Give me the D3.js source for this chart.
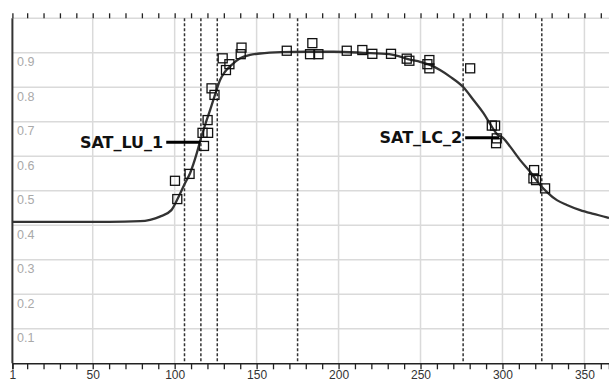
<!DOCTYPE html>
<html><head><meta charset="utf-8">
<script src="https://cdn.jsdelivr.net/npm/d3@7/dist/d3.min.js"></script>
<style>html,body{margin:0;padding:0;background:#fff;overflow:hidden}</style>
</head><body><div id="chart"></div>
<script>
// ---- data ----
const xTickLabels = [1, 50, 100, 150, 200, 250, 300, 350];
const yTickLabels = [0.1, 0.2, 0.3, 0.4, 0.5, 0.6, 0.7, 0.8, 0.9];
const dashedDays = [106, 116, 126, 175, 276, 324];
const curveDays = [1, 60, 79, 85, 91, 98, 101.6, 106.3, 109.4, 113.5, 115.6, 118.5, 121.6, 124.6, 127.7, 130.7, 134.8, 139.9, 146, 152, 165, 180, 197, 215, 231, 237.5, 243.6, 249.7, 255.8, 261.9, 268, 276.2, 282.3, 288.4, 293.5, 296.5, 300.6, 304.7, 310.8, 316.9, 323, 327, 333.2, 339.3, 347.4, 355.5, 363.7, 365];
const curveValues = [0.41, 0.41, 0.412, 0.416, 0.425, 0.444, 0.475, 0.522, 0.551, 0.609, 0.645, 0.69, 0.734, 0.778, 0.821, 0.845, 0.865, 0.884, 0.894, 0.898, 0.902, 0.903, 0.903, 0.900, 0.896, 0.889, 0.880, 0.874, 0.865, 0.850, 0.831, 0.800, 0.763, 0.725, 0.686, 0.665, 0.652, 0.628, 0.589, 0.555, 0.517, 0.497, 0.473, 0.459, 0.444, 0.433, 0.423, 0.421];
const obsDays = [100.2, 101.6, 109.1, 117.9, 117.0, 120.4, 120.1, 122.5, 124.3, 129.3, 131.3, 133.4, 140.8, 140.3, 168.4, 184.0, 182.6, 187.7, 205.0, 214.5, 220.6, 232.0, 241.6, 243.2, 255.4, 255.4, 254.2, 280.3, 293.5, 295.5, 296.5, 296.1, 319.3, 318.9, 320.5, 326.0];
const obsValues = [0.529, 0.476, 0.549, 0.630, 0.668, 0.668, 0.705, 0.797, 0.778, 0.884, 0.850, 0.867, 0.915, 0.896, 0.906, 0.928, 0.896, 0.896, 0.906, 0.908, 0.897, 0.897, 0.883, 0.877, 0.879, 0.855, 0.867, 0.855, 0.689, 0.689, 0.652, 0.638, 0.560, 0.536, 0.531, 0.507];
const annoLabels = ["SAT_LU_1", "SAT_LC_2"];
const annoDays = [115.6, 298];
const annoValues = [0.641, 0.654];

// ---- chart ----
const W = 609, H = 382;
const x = d3.scaleLinear().domain([1, 365]).range([12.4, 609]);
const y = d3.scaleLinear().domain([0, 1]).range([363.3, 18.3]);
const svg = d3.select("#chart").append("svg").attr("width", W).attr("height", H)
  .style("font-family", "'Liberation Sans', Arial, sans-serif");

const grid = svg.append("g");
grid.selectAll("line.h").data(yTickLabels.concat([1.0])).join("line")
  .attr("x1", x(1)).attr("x2", W).attr("y1", d => y(d)).attr("y2", d => y(d))
  .attr("stroke", "#dadada").attr("stroke-width", 1.5);
grid.selectAll("line.v").data(xTickLabels.filter(d => d > 1)).join("line")
  .attr("x1", d => x(d)).attr("x2", d => x(d)).attr("y1", y(1)).attr("y2", y(0))
  .attr("stroke", "#dadada").attr("stroke-width", 1.5);

svg.append("g").selectAll("text").data(yTickLabels).join("text")
  .attr("x", 17).attr("y", d => y(d) + 13.5)
  .attr("font-size", 12.5).attr("fill", "#a9a9a9")
  .text(d => d.toFixed(1));

svg.append("g").selectAll("line").data(dashedDays).join("line")
  .attr("x1", d => x(d)).attr("x2", d => x(d)).attr("y1", y(1)).attr("y2", y(0))
  .attr("stroke", "#333").attr("stroke-width", 1.5).attr("stroke-dasharray", "3,2");

// axes
const tickVals = [1].concat(d3.range(10, 361, 10));
const bottomAxis = d3.axisBottom(x).tickValues(tickVals).tickSize(6).tickFormat(d => xTickLabels.includes(d) ? d : "");
const gb = svg.append("g").attr("transform", `translate(0,${y(0)})`).call(bottomAxis);
gb.select(".domain").attr("stroke", "#222").attr("stroke-width", 1.5);
gb.selectAll(".tick line").attr("stroke", "#222").attr("stroke-width", 1.3);
gb.selectAll(".tick text").attr("font-size", 12).attr("fill", "#333").attr("dy", null).attr("y", 15.6)
  .style("font-family", "'Liberation Sans', Arial, sans-serif");

const topAxis = d3.axisTop(x).tickValues(tickVals).tickSize(5).tickFormat("");
const gt = svg.append("g").attr("transform", `translate(0,${y(1)})`).call(topAxis);
gt.select(".domain").remove();
gt.selectAll(".tick line").attr("stroke", "#222").attr("stroke-width", 1.3);

svg.append("line").attr("x1", x(1)).attr("x2", x(1)).attr("y1", y(1)).attr("y2", y(0))
  .attr("stroke", "#333").attr("stroke-width", 2);

// curve
const pts = curveDays.map((d, i) => [d, curveValues[i]]);
svg.append("path").datum(pts)
  .attr("d", d3.line().x(d => x(d[0])).y(d => y(d[1])).curve(d3.curveMonotoneX))
  .attr("fill", "none").attr("stroke", "#333").attr("stroke-width", 2.3);

// observations
const s = 9;
svg.append("g").selectAll("rect").data(obsDays.map((d, i) => [d, obsValues[i]])).join("rect")
  .attr("x", d => x(d[0]) - s / 2).attr("y", d => y(d[1]) - s / 2)
  .attr("width", s).attr("height", s)
  .attr("fill", "none").attr("stroke", "#111").attr("stroke-width", 1.3);

// annotations
const ga = svg.append("g");
annoLabels.forEach((lab, i) => {
  const ex = x(annoDays[i]), ey = y(annoValues[i]);
  ga.append("line").attr("x1", ex - 34).attr("x2", ex).attr("y1", ey).attr("y2", ey)
    .attr("stroke", "#000").attr("stroke-width", 3);
  ga.append("text").attr("x", ex - 37).attr("y", ey + 5.5).attr("text-anchor", "end")
    .attr("font-size", 16).attr("font-weight", "bold").attr("fill", "#111")
    .style("font-family", "'DejaVu Sans', sans-serif").text(lab);
});
</script></body></html>
